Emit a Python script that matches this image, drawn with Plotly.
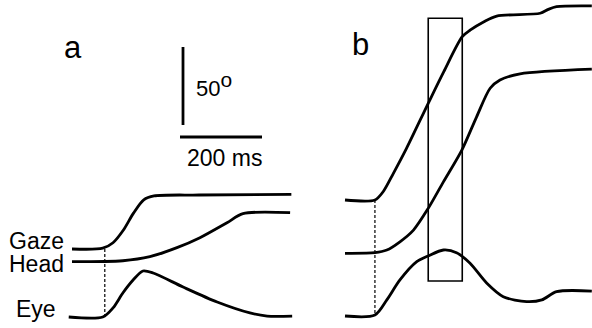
import plotly.graph_objects as go

# ---------------- data (time in ms from trace start, angle in deg from start) ----
a_gaze_t   = [0, 75, 100, 125, 150, 175, 200, 310, 535]
a_gaze_deg = [0, 0.5, 4, 12, 23, 31.5, 34, 34.6, 35]

a_head_t   = [0, 124, 190, 256, 312, 378, 417, 532]
a_head_deg = [0, 0.6, 3.2, 9.0, 15.4, 25, 30.8, 31.4]

a_eye_t    = [-8, 75, 100, 124, 149, 173, 198, 271, 354, 434, 476, 537]
a_eye_deg  = [0, 0, 5.8, 15.4, 23.7, 29.5, 28.2, 19.2, 9.6, 2.6, 0.6, 0.6]

b_gaze_t   = [0, 73, 93, 118, 150, 203, 241, 286, 306, 339, 370, 476, 496, 516, 602]
b_gaze_deg = [0, 0, 5.3, 17.1, 33.1, 62.0, 82.3, 104.7, 109.0, 114.3, 117.9, 119.7, 122.2, 123.9, 124.4]

b_head_t   = [0, 73, 102, 134, 167, 203, 240, 285, 321, 354, 378, 427, 602]
b_head_deg = [0, 0.4, 2.1, 7.4, 14.9, 28.8, 45.8, 66.2, 87.5, 105.8, 111.1, 115.0, 118.0]

b_eye_t    = [0, 73, 102, 134, 175, 203, 240, 272, 305, 346, 386, 443, 480, 516, 602]
b_eye_deg  = [0, 0.6, 10.3, 23.1, 34.8, 38.5, 42.3, 40.6, 33.8, 21.0, 12.4, 9.2, 10.3, 15.6, 16.0]

onset_a_ms = 80          # dashed onset marker, panel a
onset_b_ms = 73          # dashed onset marker, panel b
window_b_ms = [203, 286] # boxed time window, panel b
scale_deg = 50
scale_ms = 200
trace_labels = ["Gaze", "Head", "Eye"]
panel_labels = ["a", "b"]

# ---------------- layout constants (drawing geometry) ----------------
W, H = 592, 328
PX_PER_MS = 0.41
PX_PER_DEG = 1.56
X_RANGE = W / PX_PER_MS
Y_RANGE = H / PX_PER_DEG

PANEL_X0 = {"a": 72 / PX_PER_MS, "b": 345 / PX_PER_MS}
BASE = {  # vertical baseline of each trace (display deg)
    ("a", "Gaze"): (H - 249) / PX_PER_DEG,
    ("a", "Head"): (H - 261.7) / PX_PER_DEG,
    ("a", "Eye"): (H - 317) / PX_PER_DEG,
    ("b", "Gaze"): (H - 200) / PX_PER_DEG,
    ("b", "Head"): (H - 253.3) / PX_PER_DEG,
    ("b", "Eye"): (H - 316) / PX_PER_DEG,
}

def px(x):
    return x / W

def py(y):
    return 1 - y / H

series = {
    ("a", "Gaze"): (a_gaze_t, a_gaze_deg),
    ("a", "Head"): (a_head_t, a_head_deg),
    ("a", "Eye"): (a_eye_t, a_eye_deg),
    ("b", "Gaze"): (b_gaze_t, b_gaze_deg),
    ("b", "Head"): (b_head_t, b_head_deg),
    ("b", "Eye"): (b_eye_t, b_eye_deg),
}

fig = go.Figure()
for (panel, name), (t, d) in series.items():
    x0 = PANEL_X0[panel]
    b0 = BASE[(panel, name)]
    fig.add_trace(go.Scatter(
        x=[x0 + v for v in t], y=[b0 + v for v in d],
        mode="lines", line=dict(color="black", width=2.8, shape="spline", smoothing=0.8),
        hoverinfo="skip", showlegend=False))

shapes = []
# dashed onset lines
for panel, t in (("a", onset_a_ms), ("b", onset_b_ms)):
    shapes.append(dict(type="line", xref="x", yref="y",
                       x0=PANEL_X0[panel] + t, x1=PANEL_X0[panel] + t,
                       y0=BASE[(panel, "Gaze")], y1=BASE[(panel, "Eye")],
                       line=dict(color="black", width=1.2, dash="3px,2px")))
# boxed window
shapes.append(dict(type="rect", xref="x", yref="y",
                   x0=PANEL_X0["b"] + window_b_ms[0], x1=PANEL_X0["b"] + window_b_ms[1],
                   y0=(H - 281) / PX_PER_DEG, y1=(H - 18.3) / PX_PER_DEG,
                   line=dict(color="black", width=1.6), fillcolor="rgba(0,0,0,0)"))
# scale bars
sb_x = 183 / PX_PER_MS
sb_top = (H - 47) / PX_PER_DEG
shapes.append(dict(type="line", xref="x", yref="y", x0=sb_x, x1=sb_x,
                   y0=sb_top - scale_deg, y1=sb_top,
                   line=dict(color="black", width=2.8)))
hb_x0 = 180 / PX_PER_MS
hb_y = (H - 137) / PX_PER_DEG
shapes.append(dict(type="line", xref="x", yref="y", x0=hb_x0, x1=hb_x0 + scale_ms,
                   y0=hb_y, y1=hb_y, line=dict(color="black", width=2.8)))

FONT = "Liberation Sans, Arial, sans-serif"
ann = []
label_y = {"Gaze": 240.5, "Head": 263.5, "Eye": 309}
for lab in trace_labels:
    ann.append(dict(text=lab, x=px(36), y=py(label_y[lab]), xref="paper", yref="paper",
                    xanchor="center", yanchor="middle", showarrow=False,
                    font=dict(family=FONT, size=23, color="black")))
ann.append(dict(text=panel_labels[0], x=px(72.5), y=py(47), xref="paper", yref="paper",
                xanchor="center", yanchor="middle", showarrow=False,
                font=dict(family=FONT, size=31, color="black")))
ann.append(dict(text=panel_labels[1], x=px(360.5), y=py(44), xref="paper", yref="paper",
                xanchor="center", yanchor="middle", showarrow=False,
                font=dict(family=FONT, size=31, color="black")))
ann.append(dict(text=f"{scale_deg}<sup><span style='font-size:21px'>o</span></sup>",
                x=px(194), y=py(84), xref="paper", yref="paper",
                xanchor="left", yanchor="middle", showarrow=False,
                font=dict(family=FONT, size=22, color="black")))
ann.append(dict(text=f"{scale_ms} ms", x=px(224), y=py(158.3), xref="paper", yref="paper",
                xanchor="center", yanchor="middle", showarrow=False,
                font=dict(family=FONT, size=23, color="black")))

fig.update_layout(
    width=W, height=H, margin=dict(l=0, r=0, t=0, b=0, pad=0),
    paper_bgcolor="white", plot_bgcolor="white",
    xaxis=dict(range=[0, X_RANGE], visible=False, fixedrange=True),
    yaxis=dict(range=[0, Y_RANGE], visible=False, fixedrange=True),
    shapes=shapes, annotations=ann, showlegend=False,
)
fig.write_html("out.html", config={"displayModeBar": False},
               post_script="document.body.style.margin='0';document.body.style.padding='0';")
